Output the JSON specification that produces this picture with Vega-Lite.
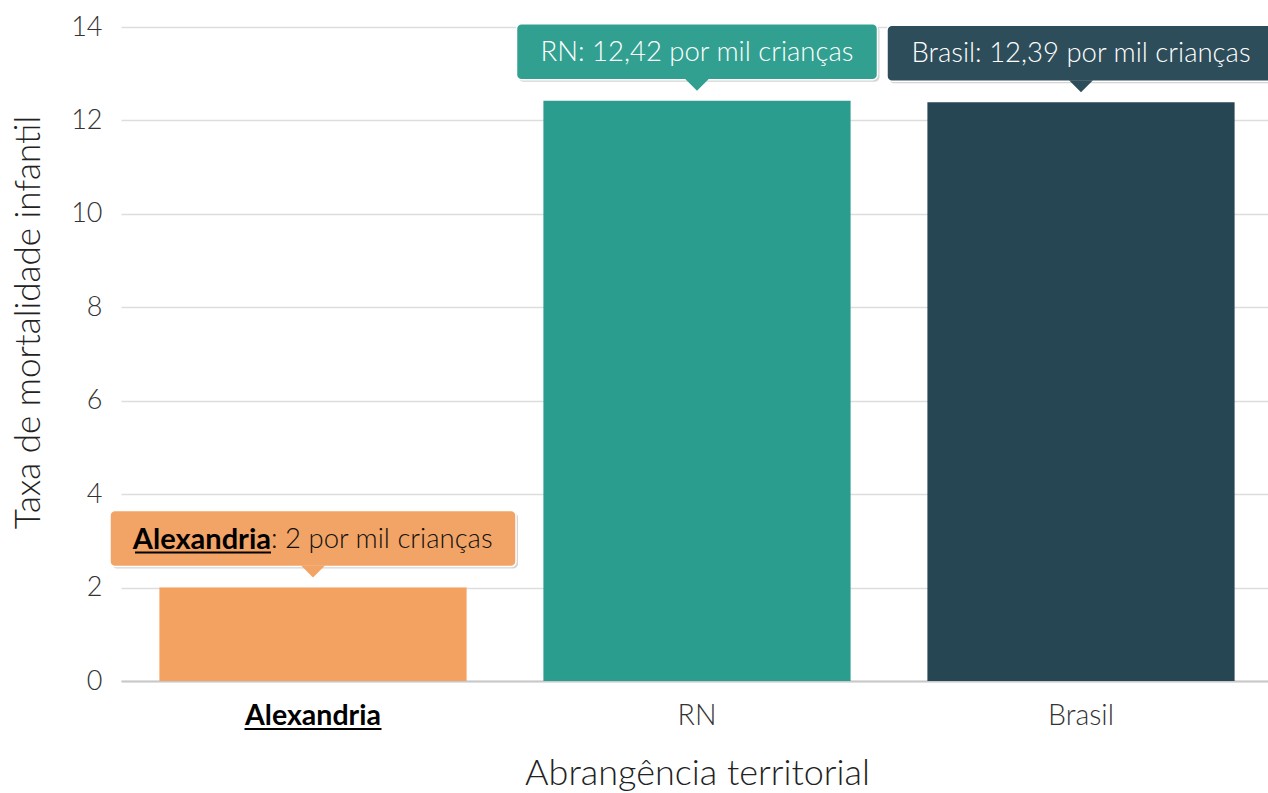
{
  "$schema": "https://vega.github.io/schema/vega-lite/v6.json",
  "autosize": "none",
  "width": 1152,
  "height": 654,
  "padding": {"left": 121, "top": 27, "right": 0, "bottom": 112},
  "background": "white",
  "config": {
    "view": {"stroke": null},
    "font": "Lato Light, Lato",
    "text": {"font": "Lato Light, Lato"}
  },
  "data": {
    "values": [
      {"cat": "Alexandria", "value": 2, "bold": "Alexandria", "label": ": 2 por mil crianças"},
      {"cat": "RN", "value": 12.42, "bold": "", "label": "RN: 12,42 por mil crianças"},
      {"cat": "Brasil", "value": 12.39, "bold": "", "label": "Brasil: 12,39 por mil crianças"}
    ]
  },
  "encoding": {
    "x": {
      "field": "cat",
      "type": "nominal",
      "sort": ["Alexandria", "RN", "Brasil"],
      "scale": {"paddingInner": 0.2, "paddingOuter": 0.1},
      "axis": {
        "title": "Abrangência territorial",
        "titleFont": "Lato Light, Lato",
        "titleFontSize": 36,
        "titleFontWeight": 300,
        "titleColor": "#222",
        "titlePadding": 27,
        "labelFont": {"condition": {"test": "datum.value == 'Alexandria'", "value": "Lato"}, "value": "Lato Light, Lato"},
        "labelFontSize": 28.5,
        "labelAngle": 0,
        "labelPadding": 20,
        "labelFontWeight": {"condition": {"test": "datum.value == 'Alexandria'", "value": "bold"}, "value": 300},
        "labelColor": {"condition": {"test": "datum.value == 'Alexandria'", "value": "#000"}, "value": "#333"},
        "ticks": false,
        "domain": true,
        "domainColor": "#c8c8c8",
        "domainWidth": 2,
        "grid": false
      }
    },
    "y": {
      "field": "value",
      "type": "quantitative",
      "scale": {"domain": [0, 14], "nice": false},
      "axis": {
        "title": "Taxa de mortalidade infantil",
        "titleFont": "Lato Light, Lato",
        "titleFontSize": 35,
        "titleFontWeight": 300,
        "titleColor": "#222",
        "titlePadding": 24,
        "titleY": 295,
        "values": [0, 2, 4, 6, 8, 10, 12, 14],
        "labelFont": "Lato Light, Lato",
        "labelFontSize": 27,
        "labelFontWeight": 300,
        "labelColor": "#333",
        "labelPadding": 19,
        "ticks": false,
        "domain": false,
        "grid": true,
        "gridColor": "#dddddd",
        "gridWidth": 1.5
      }
    }
  },
  "layer": [
    {
      "mark": {"type": "bar"},
      "encoding": {
        "color": {
          "field": "cat",
          "type": "nominal",
          "scale": {"domain": ["Alexandria", "RN", "Brasil"], "range": ["#f4a261", "#2a9d8f", "#264653"]},
          "legend": null
        }
      }
    },
    {
      "transform": [{"filter": "datum.cat == 'Alexandria'"}],
      "layer": [
        {"mark": {"type": "bar", "width": 406, "xOffset": 2, "yOffset": -75, "y2Offset": -19, "cornerRadius": 5, "fill": "#888", "opacity": 0.35}, "encoding": {"y2": {"field": "value"}}},
        {"mark": {"type": "bar", "width": 406, "yOffset": -77, "y2Offset": -21, "cornerRadius": 5, "fill": "#f2a466", "stroke": "white", "strokeWidth": 1.5}, "encoding": {"y2": {"field": "value"}}},
        {"mark": {"type": "point", "shape": "M-1,-0.5L1,-0.5L0,0.5Z", "size": 576, "filled": true, "opacity": 1, "fill": "#f2a466", "yOffset": -16}},
        {"mark": {"type": "text", "align": "right", "baseline": "middle", "font": "Lato", "fontSize": 29, "fontWeight": "bold", "fill": "#000", "xOffset": -42, "yOffset": -48}, "encoding": {"text": {"field": "bold"}}},
        {"mark": {"type": "text", "align": "left", "baseline": "middle", "font": "Lato Light, Lato", "fontSize": 27.5, "fontWeight": 300, "fill": "#111", "xOffset": -42, "yOffset": -48}, "encoding": {"text": {"field": "label"}}},
        {"mark": {"type": "tick", "orient": "horizontal", "size": 136, "thickness": 2, "color": "#000", "opacity": 1, "xOffset": -110, "yOffset": -35}},
        {"mark": {"type": "tick", "orient": "horizontal", "size": 137, "thickness": 2, "color": "#000", "opacity": 1, "yOffset": 48}, "encoding": {"y": {"datum": 0}}}
      ]
    },
    {
      "transform": [{"filter": "datum.cat == 'RN'"}],
      "layer": [
        {"mark": {"type": "bar", "width": 361, "xOffset": 2, "yOffset": -75, "y2Offset": -19, "cornerRadius": 5, "fill": "#888", "opacity": 0.35}, "encoding": {"y2": {"field": "value"}}},
        {"mark": {"type": "bar", "width": 361, "yOffset": -77, "y2Offset": -21, "cornerRadius": 5, "fill": "#32a090", "stroke": "white", "strokeWidth": 1.5}, "encoding": {"y2": {"field": "value"}}},
        {"mark": {"type": "point", "shape": "M-1,-0.5L1,-0.5L0,0.5Z", "size": 576, "filled": true, "opacity": 1, "fill": "#32a090", "yOffset": -16}},
        {"mark": {"type": "text", "align": "center", "baseline": "middle", "font": "Lato Light, Lato", "fontSize": 27.5, "fontWeight": 300, "fill": "#ffffff", "yOffset": -48}, "encoding": {"text": {"field": "label"}}}
      ]
    },
    {
      "transform": [{"filter": "datum.cat == 'Brasil'"}],
      "layer": [
        {"mark": {"type": "bar", "width": 388, "xOffset": 2, "yOffset": -75, "y2Offset": -19, "cornerRadius": 5, "fill": "#888", "opacity": 0.35}, "encoding": {"y2": {"field": "value"}}},
        {"mark": {"type": "bar", "width": 388, "yOffset": -77, "y2Offset": -21, "cornerRadius": 5, "fill": "#2e4d5a", "stroke": "white", "strokeWidth": 1.5}, "encoding": {"y2": {"field": "value"}}},
        {"mark": {"type": "point", "shape": "M-1,-0.5L1,-0.5L0,0.5Z", "size": 576, "filled": true, "opacity": 1, "fill": "#2e4d5a", "yOffset": -16}},
        {"mark": {"type": "text", "align": "center", "baseline": "middle", "font": "Lato Light, Lato", "fontSize": 27.5, "fontWeight": 300, "fill": "#ffffff", "yOffset": -48}, "encoding": {"text": {"field": "label"}}}
      ]
    }
  ]
}
